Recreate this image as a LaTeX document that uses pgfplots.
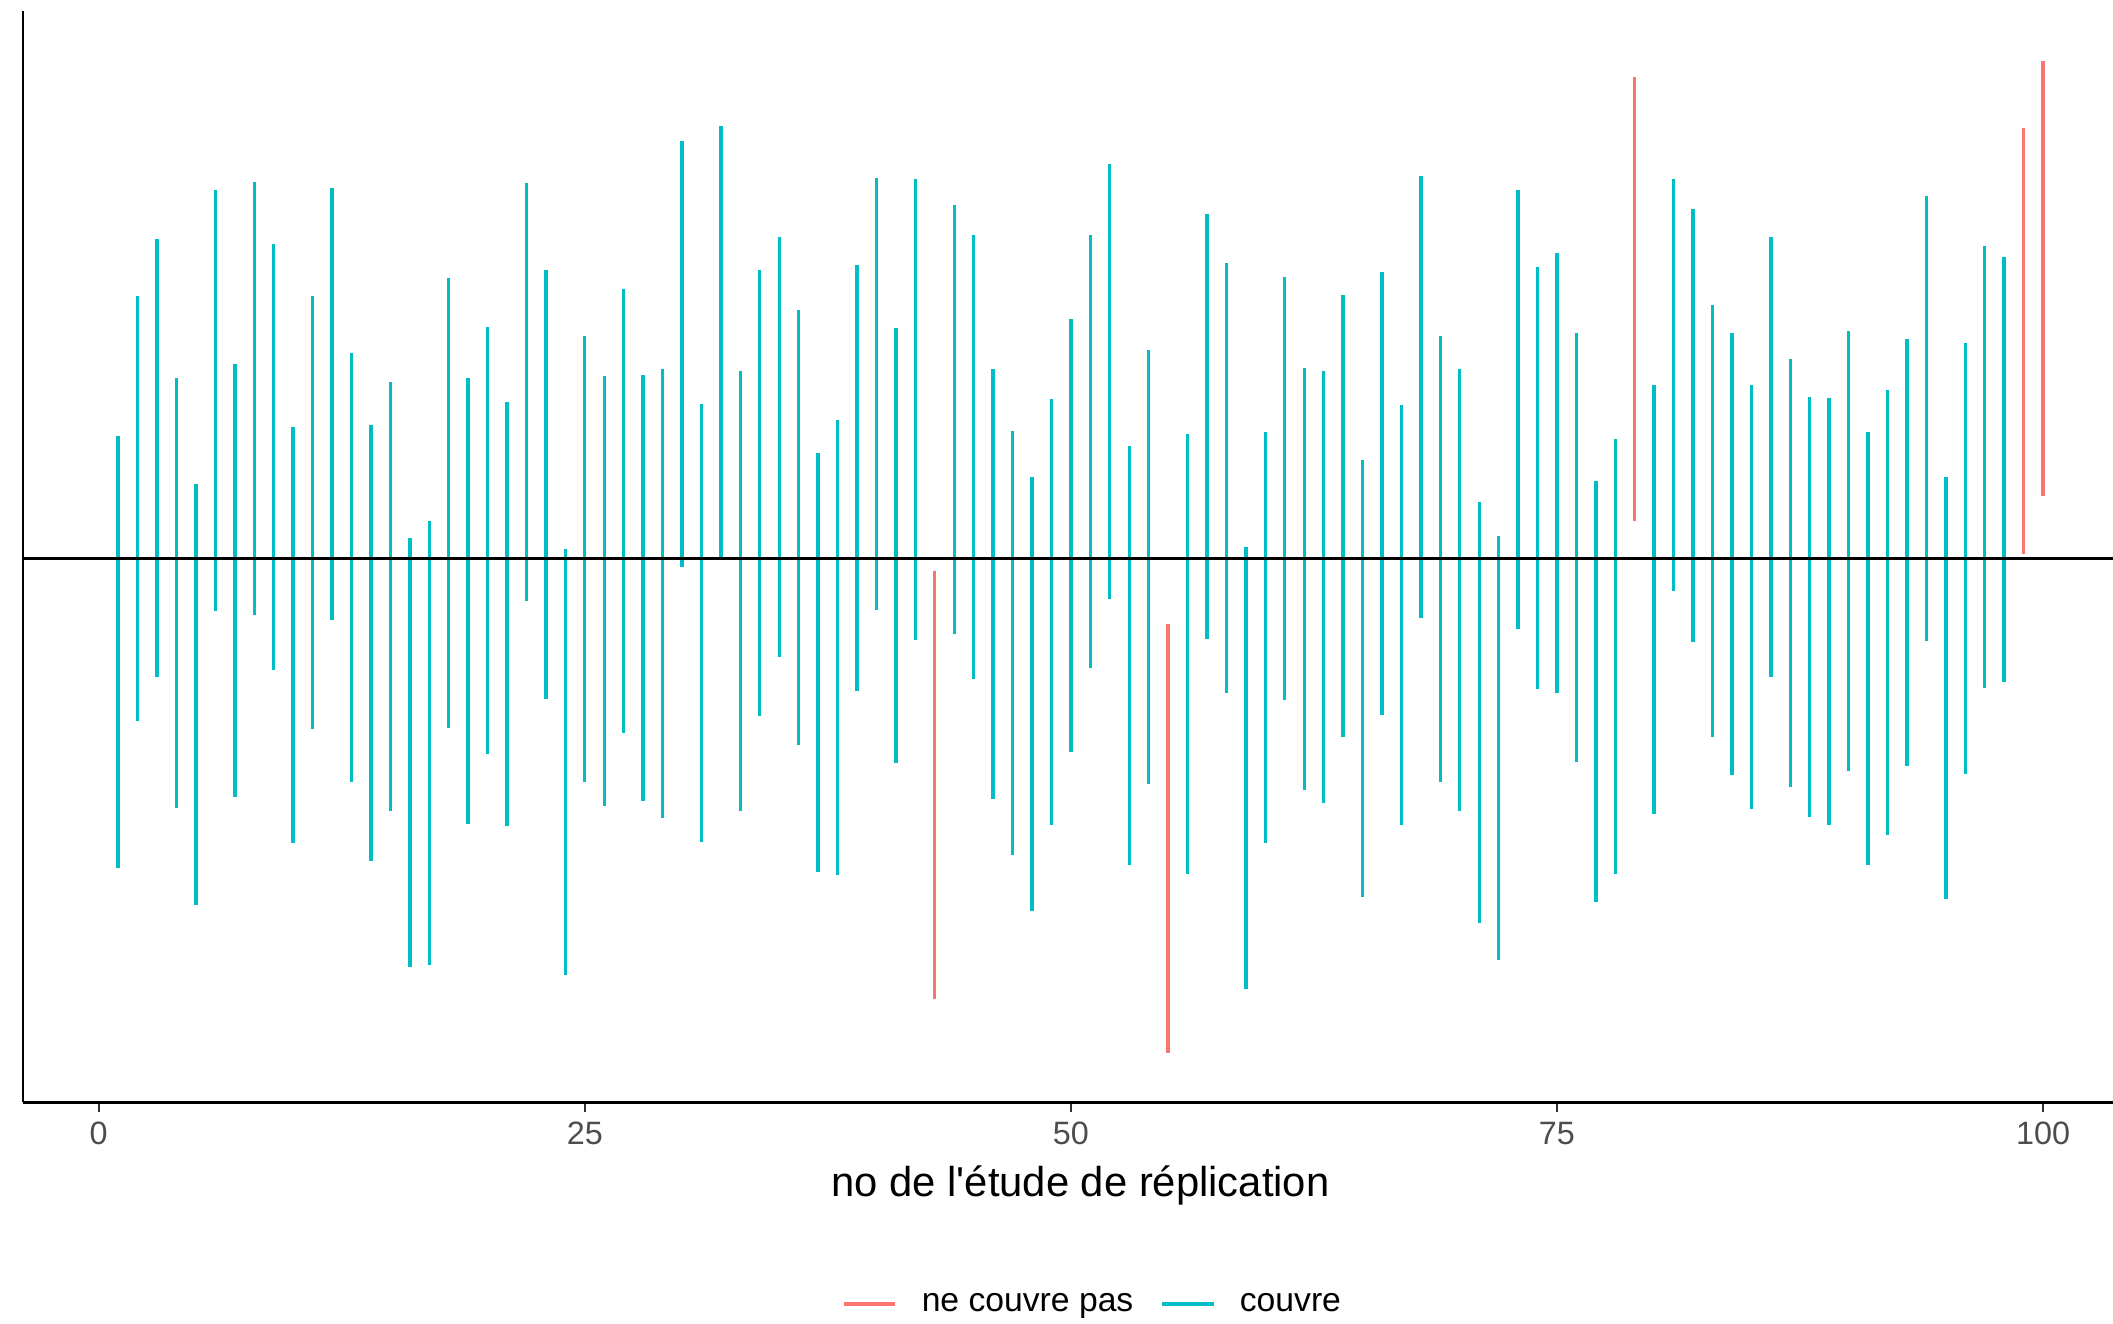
\documentclass[border=0pt]{standalone}
\usepackage{fontspec}
\setmainfont{Liberation Sans}
\usepackage{pgfplots}
\usepackage{pgfplotstable}
\pgfplotsset{compat=1.18}

\definecolor{rouge}{HTML}{F8766D}
\definecolor{turq}{HTML}{00BFC4}
\definecolor{gristick}{HTML}{333333}
\definecolor{grislab}{HTML}{4D4D4D}

% intervalles qui couvrent la valeur (id, borne basse, borne haute)
\pgfplotstableread{
id lo hi
1 -4.41 1.75
2 -2.31 3.74
3 -1.69 4.56
4 -3.55 2.58
5 -4.94 1.06
6 -0.74 5.26
7 -3.40 2.77
8 -0.80 5.37
9 -1.59 4.49
10 -4.05 1.87
11 -2.43 3.75
12 -0.87 5.29
13 -3.19 2.93
14 -4.31 1.91
15 -3.60 2.52
16 -5.82 0.30
17 -5.79 0.53
18 -2.41 4.00
19 -3.78 2.57
20 -2.78 3.30
21 -3.81 2.24
22 -0.61 5.36
23 -2.00 4.12
24 -5.94 0.14
25 -3.18 3.18
26 -3.53 2.60
27 -2.49 3.84
28 -3.45 2.62
29 -3.69 2.71
30 -0.12 5.95
31 -4.04 2.20
32 -0.02 6.17
33 -3.60 2.67
34 -2.25 4.12
35 -1.40 4.58
36 -2.65 3.54
37 -4.46 1.50
38 -4.51 1.97
39 -1.88 4.18
40 -0.73 5.42
41 -2.91 3.29
42 -1.16 5.41
44 -1.08 5.04
45 -1.72 4.61
46 -3.42 2.70
47 -4.22 1.82
48 -5.02 1.16
49 -3.79 2.27
50 -2.76 3.42
51 -1.56 4.61
52 -0.57 5.62
53 -4.37 1.61
54 -3.21 2.98
56 -4.50 1.77
57 -1.14 4.91
58 -1.91 4.22
59 -6.13 0.17
60 -4.05 1.80
61 -2.02 4.02
62 -3.30 2.72
63 -3.48 2.68
64 -2.54 3.76
65 -4.82 1.41
66 -2.23 4.08
67 -3.80 2.19
68 -0.85 5.45
69 -3.18 3.17
70 -3.60 2.71
71 -5.20 0.81
72 -5.72 0.32
73 -1.00 5.26
74 -1.86 4.16
75 -1.92 4.35
76 -2.90 3.21
77 -4.90 1.10
78 -4.49 1.70
80 -3.64 2.48
81 -0.46 5.41
82 -1.19 4.99
83 -2.54 3.61
84 -3.09 3.21
85 -3.57 2.48
86 -1.68 4.58
87 -3.26 2.84
88 -3.68 2.31
89 -3.79 2.29
90 -3.03 3.24
91 -4.36 1.81
92 -3.94 2.41
93 -2.95 3.13
94 -1.17 5.17
95 -4.85 1.17
96 -3.07 3.08
97 -1.85 4.46
98 -1.76 4.30
}\couvre

% intervalles qui ne couvrent pas
\pgfplotstableread{
id lo hi
43 -6.28 -0.17
55 -7.04 -0.93
79 0.54 6.87
99 0.07 6.14
100 0.89 7.10
}\pascouvre

\begin{document}
\begin{tikzpicture}
\begin{axis}[
  scale only axis,
  width=775.5pt, height=405pt,
  xmin=-3.9, xmax=103.6,
  ymin=-7.75, ymax=7.81,
  axis x line=bottom, axis y line=left,
  axis line style={-, line width=1pt, black},
  xtick={0,25,50,75,100}, ytick=\empty,
  tick align=outside,
  major tick length=3.7pt,
  x tick style={gristick, line width=0.8pt},
  xticklabel style={font=\fontsize{12}{14}\selectfont, text=grislab},
  /pgf/number format/assume math mode=true,
  xlabel={no de l\textquotesingle étude de réplication},
  xlabel style={font=\fontsize{15.5}{18}\selectfont, at={(0.506,-0.0864)}, anchor=base},
  legend style={at={(0.5126,-0.185)}, anchor=center, draw=none,
    legend columns=2, font=\fontsize{12.5}{15}\selectfont,
    /tikz/every odd column/.append style={column sep=7pt},
    /tikz/every even column/.append style={column sep=8pt}},
  legend cell align=left,
]
\addplot[rouge, line width=1.25pt, no marks, -,
  quiver={u=0, v=\thisrow{hi}-\thisrow{lo},
    every arrow/.append style={line width=1.25pt, line cap=butt}},
  legend image code/.code={\draw[rouge, line width=1.5pt] (0pt,0pt) -- (19pt,0pt);}]
  table[x=id, y=lo] {\pascouvre};
\addlegendentry{ne couvre pas}
\addplot[turq, line width=1.25pt, no marks, -,
  quiver={u=0, v=\thisrow{hi}-\thisrow{lo},
    every arrow/.append style={line width=1.25pt, line cap=butt}},
  legend image code/.code={\draw[turq, line width=1.5pt] (0pt,0pt) -- (19pt,0pt);}]
  table[x=id, y=lo] {\couvre};
\addlegendentry{couvre}
\addplot[black, line width=1.1pt, forget plot] coordinates {(-3.9,0) (103.6,0)};
\coordinate (sw) at (rel axis cs:0,0);
\coordinate (ne) at (rel axis cs:1,1);
\end{axis}
\pgfresetboundingbox
\path[use as bounding box] ([xshift=-8.5pt,yshift=-82pt]sw) rectangle ([yshift=4pt]ne);
\end{tikzpicture}
\end{document}
